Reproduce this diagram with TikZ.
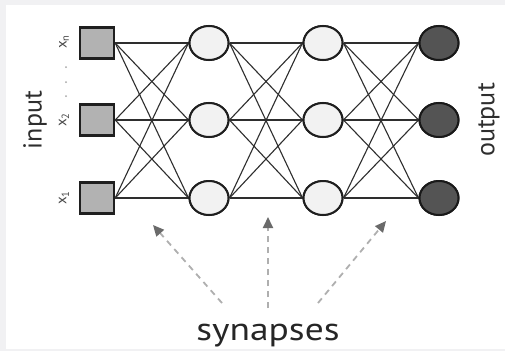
\documentclass[tikz,border=0pt]{standalone}
\usepackage{fontspec}
\setmainfont{PT Sans}
\usetikzlibrary{arrows.meta,shapes.geometric}
\definecolor{bgframe}{HTML}{F1F1F3}
\definecolor{sqfill}{HTML}{B2B2B2}
\definecolor{hidfill}{HTML}{F2F2F2}
\definecolor{outfill}{HTML}{545454}
\definecolor{edgecol}{HTML}{2E2E2E}
\definecolor{dashcol}{HTML}{AFAFAF}
\definecolor{headcol}{HTML}{6A6A6A}
\begin{document}
\begin{tikzpicture}[x=1pt,y=-1pt,
  inbox/.style={draw=black!88,line width=2.4pt,fill=sqfill,minimum width=34pt,minimum height=31pt,inner sep=0pt},
  hidnode/.style={ellipse,draw=black!88,line width=2pt,fill=hidfill,minimum width=39pt,minimum height=34pt,inner sep=0pt},
  outnode/.style={ellipse,draw=black!90,line width=2pt,fill=outfill,minimum width=39pt,minimum height=34pt,inner sep=0pt},
  syn/.style={draw=edgecol,line width=1.1pt},
  pointer/.style={draw=dashcol,line width=1.8pt,dash pattern=on 6pt off 5pt,-{Triangle[length=11pt,width=10pt,color=headcol,fill=headcol]}},
  sidelabel/.style={font=\fontsize{26}{28}\selectfont,text=black!82,rotate=90},
  xlabel/.style={font=\fontsize{15}{16}\selectfont,text=black!72,rotate=90}
]
\useasboundingbox (0,0) rectangle (505,351);
\fill[bgframe] (0,0) rectangle (505,351);
\fill[white] (6,5) rectangle (505,349);

% nodes (placed first so their anchors exist)
\node[inbox] (i3) at (97,43) {};
\node[inbox] (i2) at (97,120) {};
\node[inbox] (i1) at (97,198) {};
\node[hidnode] (a3) at (209,43) {};
\node[hidnode] (a2) at (209,120) {};
\node[hidnode] (a1) at (209,198) {};
\node[hidnode] (b3) at (323,43) {};
\node[hidnode] (b2) at (323,120) {};
\node[hidnode] (b1) at (323,198) {};
\node[outnode] (o3) at (439,43) {};
\node[outnode] (o2) at (439,120) {};
\node[outnode] (o1) at (439,198) {};

% synapse connections
\foreach \s/\t in {i/a,a/b,b/o}{
  \foreach \p in {1,2,3}{
    \foreach \q in {1,2,3}{
      \draw[syn] (\s\p.east) -- (\t\q.west);
    }
  }
}
% redraw nodes on top of the lines
\foreach \k in {1,2,3}{ \node[inbox] at (i\k) {}; }
\foreach \m in {a,b}{
  \foreach \k in {1,2,3}{ \node[hidnode] at (\m\k) {}; }
}
\foreach \k in {1,2,3}{ \node[outnode] at (o\k) {}; }

% labels
\node[sidelabel] (inlab) at (35,120) {input};
\node[sidelabel] (outlab) at (489,120) {output};
\node[xlabel] (xn) at (64,42) {x\textsubscript{n}};
\node[xlabel] (x2) at (64,120) {x\textsubscript{2}};
\node[xlabel] (x1) at (64,198) {x\textsubscript{1}};
\foreach \yy in {67,82,96}{ \fill[black!35] (66,\yy) circle (1pt); }

% synapse pointers
\node[font=\fontsize{32}{34}\selectfont,text=black!85,xscale=1.17,anchor=base] (synlab) at (268,340) {synapses};
\coordinate (s1) at (222,303); \coordinate (e1) at (153,225);
\coordinate (s2) at (268,308); \coordinate (e2) at (268,217);
\coordinate (s3) at (318,303); \coordinate (e3) at (386,221);
\draw[pointer] (s1) -- (e1);
\draw[pointer] (s2) -- (e2);
\draw[pointer] (s3) -- (e3);
\end{tikzpicture}
\end{document}
